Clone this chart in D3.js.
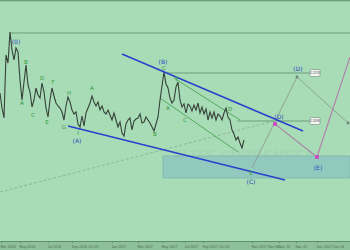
<!DOCTYPE html>
<html>
<head>
<meta charset="utf-8">
<script src="https://cdn.jsdelivr.net/npm/d3@7"></script>
<style>
  html, body { margin: 0; padding: 0; background: #a8dcb6; }
  svg { display: block; }
</style>
</head>
<body>
<svg id="chart"></svg>
<script>
// price closes, one per bar
const prices = [
  1.237, 1.222, 1.212, 1.275, 1.267, 1.298, 1.280, 1.270, 1.282, 1.278,
  1.250, 1.230, 1.248, 1.265, 1.245, 1.238, 1.223, 1.230, 1.242, 1.235,
  1.232, 1.247, 1.238, 1.222, 1.213, 1.230, 1.242, 1.234, 1.227, 1.224,
  1.222, 1.218, 1.210, 1.224, 1.233, 1.228, 1.220, 1.216, 1.218, 1.206,
  1.203, 1.214, 1.204, 1.217, 1.222, 1.227, 1.234, 1.228, 1.224, 1.228,
  1.220, 1.224, 1.218, 1.216, 1.220, 1.215, 1.210, 1.217, 1.210, 1.203,
  1.208, 1.197, 1.194, 1.206, 1.210, 1.212, 1.200, 1.209, 1.211, 1.212,
  1.216, 1.207, 1.208, 1.213, 1.210, 1.207, 1.203, 1.199, 1.206, 1.213,
  1.230, 1.244, 1.258, 1.246, 1.242, 1.232, 1.227, 1.230, 1.243, 1.248,
  1.230, 1.223, 1.226, 1.217, 1.226, 1.224, 1.219, 1.225, 1.220, 1.227,
  1.217, 1.223, 1.216, 1.221, 1.210, 1.218, 1.212, 1.218, 1.210, 1.216,
  1.214, 1.210, 1.217, 1.222, 1.213, 1.210, 1.200, 1.196, 1.190, 1.193,
  1.187, 1.182, 1.190
];

// x axis ticks (bar index) and their labels
const tickBars = [0.5, 10, 24, 36, 56, 69, 81, 92.5, 101.5, 126, 139.5, 148, 158.5];
const tickLabels = ["Mar 2016", "May 2016", "Jul 2016", "Sep 2016 Oct 09", "Jan 2017", "Mar 2017",
  "May 2017", "Jul 2017", "Sep 2017 Oct 09", "Nov 2017 Nov 06", "Nov 13", "Nov 20", "Dec 2017 Dec 04"];

// wave labels: [text, bar, price]
const greenLabels = [
  ["B", 13, 1.268], ["A", 11, 1.227], ["D", 21, 1.252], ["C", 16.5, 1.215],
  ["F", 26.5, 1.248], ["E", 23.5, 1.208], ["H", 34.5, 1.237], ["G", 32, 1.203],
  ["A", 46, 1.242], ["I", 39, 1.197],
  ["C", 82, 1.262], ["F", 88.5, 1.251], ["A", 84, 1.222], ["B", 77.5, 1.196],
  ["C", 92.5, 1.210], ["D", 115, 1.221], ["E", 125.5, 1.157]
];
const blueLabels = [
  ["(0)", 8, 1.288], ["(A)", 38.5, 1.189], ["(B)", 81.5, 1.268], ["(C)", 125.5, 1.148],
  ["(D)", 139.5, 1.213], ["(D)", 149, 1.261], ["(E)", 159, 1.162]
];

// channel lines: [[bar, price], [bar, price]]
const blueLines = [
  [[61, 1.276], [151.5, 1.199]],
  [[34, 1.204], [142.5, 1.150]]
];
const greenLines = [
  [[87, 1.252], [120, 1.210]],
  [[80, 1.232], [119, 1.178]]
];
const dashedLine = [[0, 1.138], [139, 1.210]];

// horizontal levels
const levelPrices = [1.297, 1.257, 1.209];
const levelStart = [5, 83, 118.5];
const levelEnd = [175, 155, 155];
const levelTags = ["", "1.2570", "1.2090"];

// target zone
const zoneBars = [81.5, 175];
const zonePrices = [1.152, 1.174];

// projections
const projGray1 = [[126, 1.162], [148.5, 1.253]];
const projGray2 = [[148.5, 1.253], [174, 1.207]];
const projPink1 = [[137.5, 1.206], [158.5, 1.173]];
const projPink2 = [[158.5, 1.173], [175, 1.273]];
const pinkDots = [[137.5, 1.206], [158.5, 1.173]];
const grayDots = [[148.5, 1.253], [174, 1.207]];

const width = 350, height = 250;
const svg = d3.select("#chart").attr("width", width).attr("height", height);

const x = d3.scaleLinear().domain([0, 175]).range([0, 350]);
const y = d3.scaleLinear().domain([1.09, 1.30]).range([240, 30]);

svg.append("rect").attr("width", width).attr("height", height).attr("fill", "#a8dcb6");
svg.append("line").attr("x1", 0).attr("x2", width).attr("y1", 0.5).attr("y2", 0.5)
  .attr("stroke", "#6c9c79").attr("stroke-width", 1.5);

// faint watermark
svg.append("text").attr("x", 172).attr("y", 160)
  .attr("font-family", "DejaVu Sans").attr("font-weight", "bold").attr("font-size", 14)
  .attr("fill", "#8aa6ae").attr("opacity", 0.12).text("ELITE CURRENSEA");

// zone
svg.append("rect")
  .attr("x", x(zoneBars[0])).attr("y", y(zonePrices[1]))
  .attr("width", x(zoneBars[1]) - x(zoneBars[0]))
  .attr("height", y(zonePrices[0]) - y(zonePrices[1]))
  .attr("fill", "#91c9bf").attr("stroke", "#7fb6ac").attr("stroke-width", 0.8);

const seg = d3.line().x(d => x(d[0])).y(d => y(d[1]));

// dashed trend
svg.append("path").attr("d", seg(dashedLine)).attr("fill", "none")
  .attr("stroke", "#8aa995").attr("stroke-width", 0.8).attr("stroke-dasharray", "3,2");

// levels
levelPrices.forEach((p, i) => {
  svg.append("line")
    .attr("x1", x(levelStart[i])).attr("x2", x(levelEnd[i]))
    .attr("y1", y(p)).attr("y2", y(p))
    .attr("stroke", "#6f9d7c").attr("stroke-width", 1);
  if (levelTags[i]) {
    svg.append("rect").attr("x", x(levelEnd[i])).attr("y", y(p) - 3.5)
      .attr("width", 10).attr("height", 7).attr("rx", 1)
      .attr("fill", "#f4f6f2").attr("stroke", "#6f8a76").attr("stroke-width", 0.6);
    svg.append("text").attr("x", x(levelEnd[i]) + 5).attr("y", y(p) + 1.2)
      .attr("text-anchor", "middle").attr("font-family", "Liberation Sans")
      .attr("font-size", 3.2).attr("fill", "#444").text(levelTags[i]);
  }
});

// green channel
greenLines.forEach(l => {
  svg.append("path").attr("d", seg(l)).attr("fill", "none")
    .attr("stroke", "#3d9a45").attr("stroke-width", 0.8);
});

// projections
[projGray1, projGray2].forEach(l => {
  svg.append("path").attr("d", seg(l)).attr("fill", "none")
    .attr("stroke", "#8a9c92").attr("stroke-width", 0.9);
});
svg.append("path").attr("d", seg(projPink1)).attr("fill", "none")
  .attr("stroke", "#a98aa6").attr("stroke-width", 1.1);
svg.append("path").attr("d", seg(projPink2)).attr("fill", "none")
  .attr("stroke", "#b07fa8").attr("stroke-width", 1.1);

// price
svg.append("path").datum(prices)
  .attr("d", d3.line().x((d, i) => x(i)).y(d => y(d)))
  .attr("fill", "none").attr("stroke", "#36413a").attr("stroke-width", 1.1);

// blue channel
blueLines.forEach(l => {
  svg.append("path").attr("d", seg(l)).attr("fill", "none")
    .attr("stroke", "#2a40cc").attr("stroke-width", 1.5);
});

svg.selectAll(".gdot").data(grayDots).enter().append("circle")
  .attr("cx", d => x(d[0])).attr("cy", d => y(d[1])).attr("r", 1.4).attr("fill", "#6f8078");
svg.selectAll(".pdot").data(pinkDots).enter().append("rect")
  .attr("x", d => x(d[0]) - 1.8).attr("y", d => y(d[1]) - 1.8)
  .attr("width", 3.6).attr("height", 3.6).attr("fill", "#d23ec4");

// labels
svg.selectAll(".glab").data(greenLabels).enter().append("text")
  .attr("x", d => x(d[1])).attr("y", d => y(d[2]))
  .attr("dy", "0.35em").attr("text-anchor", "middle")
  .attr("font-family", "DejaVu Sans").attr("font-size", 5.5)
  .attr("fill", "#2a9636").text(d => d[0]);
svg.selectAll(".blab").data(blueLabels).enter().append("text")
  .attr("x", d => x(d[1])).attr("y", d => y(d[2]))
  .attr("dy", "0.35em").attr("text-anchor", "middle")
  .attr("font-family", "DejaVu Sans").attr("font-size", 6)
  .attr("fill", "#2848c0").text(d => d[0]);

// bottom axis
svg.append("rect").attr("x", 0).attr("y", 241).attr("width", width).attr("height", 9)
  .attr("fill", "#8fc09c");
const axis = d3.axisBottom(x).tickValues(tickBars)
  .tickFormat((d, i) => tickLabels[i]).tickSize(2).tickSizeOuter(0);
const gx = svg.append("g").attr("transform", "translate(0,241)").call(axis);
gx.select(".domain").attr("stroke", "#5f8e6b").attr("stroke-width", 1.2);
gx.selectAll(".tick line").attr("stroke", "#5f8e6b");
gx.selectAll(".tick text").attr("text-anchor", "start").attr("dx", -1).attr("y", 4)
  .attr("font-family", "Liberation Sans").attr("font-size", 3.6).attr("fill", "#4a6d52");
</script>
</body>
</html>
